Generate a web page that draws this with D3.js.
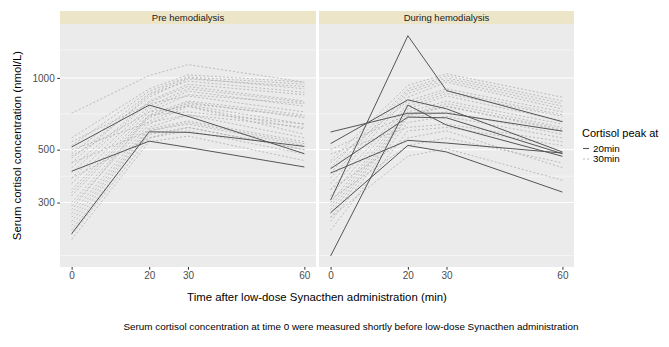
<!DOCTYPE html>
<html>
<head>
<meta charset="utf-8">
<script src="https://cdn.jsdelivr.net/npm/d3@7"></script>
<style>
  body { margin: 0; background: #fff; }
  svg { display: block; }
  svg text { font-family: "Liberation Sans", Arial, sans-serif; }
</style>
</head>
<body>
<div id="chart"></div>
<script>
// sampling times (min)
var times = [0, 20, 30, 60]
var panelNames = ["Pre hemodialysis", "During hemodialysis"]

// y axis breaks (nmol/L)
var yTicks = [300, 500, 1000]
var yMinor = [180, 387, 707, 1310]

// pre hemodialysis, peak at 20 min (solid)
var preSolid = [
  [513, 769, 690, 481],
  [406, 543, 511, 423],
  [222, 594, 591, 516]
]

// pre hemodialysis, peak at 30 min (dashed)
var preDashed = [
  [711, 1023, 1137, 960],
  [560, 900, 1030, 960],
  [520, 880, 1010, 940],
  [480, 860, 1000, 900],
  [460, 830, 990, 920],
  [440, 850, 970, 870],
  [420, 800, 940, 850],
  [400, 790, 920, 800],
  [380, 760, 900, 790],
  [360, 740, 880, 760],
  [340, 720, 850, 780],
  [330, 700, 800, 700],
  [320, 690, 780, 690],
  [300, 680, 790, 680],
  [290, 660, 770, 640],
  [280, 700, 720, 640],
  [270, 640, 760, 610],
  [260, 620, 700, 560],
  [250, 610, 660, 540],
  [240, 600, 640, 520],
  [230, 580, 620, 500],
  [220, 560, 600, 480],
  [210, 540, 570, 450],
  [500, 650, 700, 620],
  [470, 720, 760, 580],
  [440, 600, 650, 530],
  [380, 560, 620, 500],
  [540, 780, 840, 720]
]

// during hemodialysis, peak at 20 min (solid)
var duringSolid = [
  [307, 1503, 885, 655],
  [179, 769, 634, 469],
  [593, 711, 711, 598],
  [530, 809, 742, 489],
  [416, 685, 680, 481],
  [399, 547, 533, 484],
  [272, 521, 489, 332]
]

// during hemodialysis, peak at 30 min (dashed)
var duringDashed = [
  [450, 930, 1040, 830],
  [420, 900, 1020, 800],
  [400, 880, 1000, 780],
  [380, 860, 980, 760],
  [360, 830, 960, 740],
  [440, 800, 900, 720],
  [340, 780, 880, 700],
  [320, 760, 860, 690],
  [300, 740, 840, 660],
  [290, 720, 800, 640],
  [280, 700, 780, 620],
  [270, 690, 760, 600],
  [260, 680, 720, 580],
  [250, 650, 690, 560],
  [480, 620, 640, 540],
  [230, 600, 620, 520],
  [310, 520, 560, 440],
  [260, 470, 505, 372],
  [340, 560, 600, 420],
  [500, 700, 760, 610]
]

var panelData = [
  { solid: preSolid, dashed: preDashed },
  { solid: duringSolid, dashed: duringDashed }
]

var width = 669, height = 347
var panelTop = 24, panelBottom = 267, stripTop = 11
var panelX = [[60, 316], [319, 574]]
var font = "Liberation Sans, Arial, sans-serif"

var svg = d3.select("#chart").append("svg")
    .attr("width", width)
    .attr("height", height)

var y = d3.scaleLog().domain([161, 1683]).range([panelBottom, panelTop])

var line = d3.line()

panelData.forEach(function(p, i) {

  var x = d3.scaleLinear().domain([-3, 63]).range(panelX[i])
  var g = svg.append("g")

  // strip
  g.append("rect")
    .attr("x", panelX[i][0]).attr("y", stripTop)
    .attr("width", panelX[i][1] - panelX[i][0]).attr("height", panelTop - stripTop)
    .attr("fill", "#ede5c8")
  g.append("text")
    .attr("x", (panelX[i][0] + panelX[i][1]) / 2).attr("y", (stripTop + panelTop) / 2)
    .attr("dy", "0.35em")
    .attr("text-anchor", "middle")
    .attr("font-size", 9.5)
    .attr("fill", "#1a1a1a")
    .text(panelNames[i])

  // panel background
  g.append("rect")
    .attr("x", panelX[i][0]).attr("y", panelTop)
    .attr("width", panelX[i][1] - panelX[i][0]).attr("height", panelBottom - panelTop)
    .attr("fill", "#ebebeb")

  g.selectAll(".minor")
    .data(yMinor)
    .join("line")
    .attr("x1", panelX[i][0]).attr("x2", panelX[i][1])
    .attr("y1", d => y(d)).attr("y2", d => y(d))
    .attr("stroke", "#fff").attr("stroke-width", 0.5)

  g.selectAll(".major")
    .data(yTicks)
    .join("line")
    .attr("x1", panelX[i][0]).attr("x2", panelX[i][1])
    .attr("y1", d => y(d)).attr("y2", d => y(d))
    .attr("stroke", "#fff").attr("stroke-width", 1)

  var pts = function(row) { return row.map((v, k) => [x(times[k]), y(v)]) }

  g.append("g")
    .selectAll("path")
    .data(p.dashed)
    .join("path")
    .attr("d", d => line(pts(d)))
    .attr("fill", "none")
    .attr("stroke", "#a6a6a6")
    .attr("stroke-width", 0.7)
    .attr("stroke-dasharray", "2,2")

  g.append("g")
    .selectAll("path")
    .data(p.solid)
    .join("path")
    .attr("d", d => line(pts(d)))
    .attr("fill", "none")
    .attr("stroke", "#555")
    .attr("stroke-width", 1)

  // x axis
  var xa = g.append("g")
    .attr("transform", "translate(0," + panelBottom + ")")
    .call(d3.axisBottom(x).tickValues(times).tickSize(2.75).tickPadding(2.5))
  xa.attr("font-family", font)
  xa.select(".domain").remove()
  xa.selectAll("line").attr("stroke", "#333")
  xa.selectAll("text").attr("font-size", 10).attr("fill", "#4d4d4d")

  if (i == 0) {
    var ya = g.append("g")
      .attr("transform", "translate(" + panelX[0][0] + ",0)")
      .call(d3.axisLeft(y).tickValues(yTicks).tickFormat(d3.format("d")).tickSize(2.75).tickPadding(2.5))
    ya.attr("font-family", font)
    ya.select(".domain").remove()
    ya.selectAll("line").attr("stroke", "#333")
    ya.selectAll("text").attr("font-size", 10).attr("fill", "#4d4d4d")
  }
})

// axis titles
svg.append("text")
  .attr("x", (panelX[0][0] + panelX[1][1]) / 2).attr("y", 301)
  .attr("text-anchor", "middle")
  .attr("font-size", 11.4)
  .text("Time after low-dose Synacthen administration (min)")

svg.append("text")
  .attr("transform", "translate(21," + (panelTop + panelBottom) / 2 + ") rotate(-90)")
  .attr("text-anchor", "middle")
  .attr("font-size", 11.4)
  .text("Serum cortisol concentration (nmol/L)")

// caption
svg.append("text")
  .attr("x", 351).attr("y", 330)
  .attr("text-anchor", "middle")
  .attr("font-size", 9.9)
  .text("Serum cortisol concentration at time 0 were measured shortly before low-dose Synacthen administration")

// legend
var legend = svg.append("g").attr("transform", "translate(582,0)")
legend.append("text")
  .attr("x", 0).attr("y", 137)
  .attr("font-size", 11)
  .text("Cortisol peak at")

var keys = [
  { label: "20min", color: "#555", dash: null, w: 1.1 },
  { label: "30min", color: "#a6a6a6", dash: "2,2", w: 0.8 }
]
legend.selectAll(".key")
  .data(keys)
  .join("g")
  .attr("transform", (d, k) => "translate(0," + (148.5 + k * 10.5) + ")")
  .each(function(d) {
    var k = d3.select(this)
    k.append("line")
      .attr("x1", 1).attr("x2", 7).attr("y1", 0).attr("y2", 0)
      .attr("stroke", d.color).attr("stroke-width", d.w)
      .attr("stroke-dasharray", d.dash)
    k.append("text")
      .attr("x", 11).attr("dy", "0.35em")
      .attr("font-size", 9.8)
      .text(d.label)
  })
</script>
</body>
</html>
